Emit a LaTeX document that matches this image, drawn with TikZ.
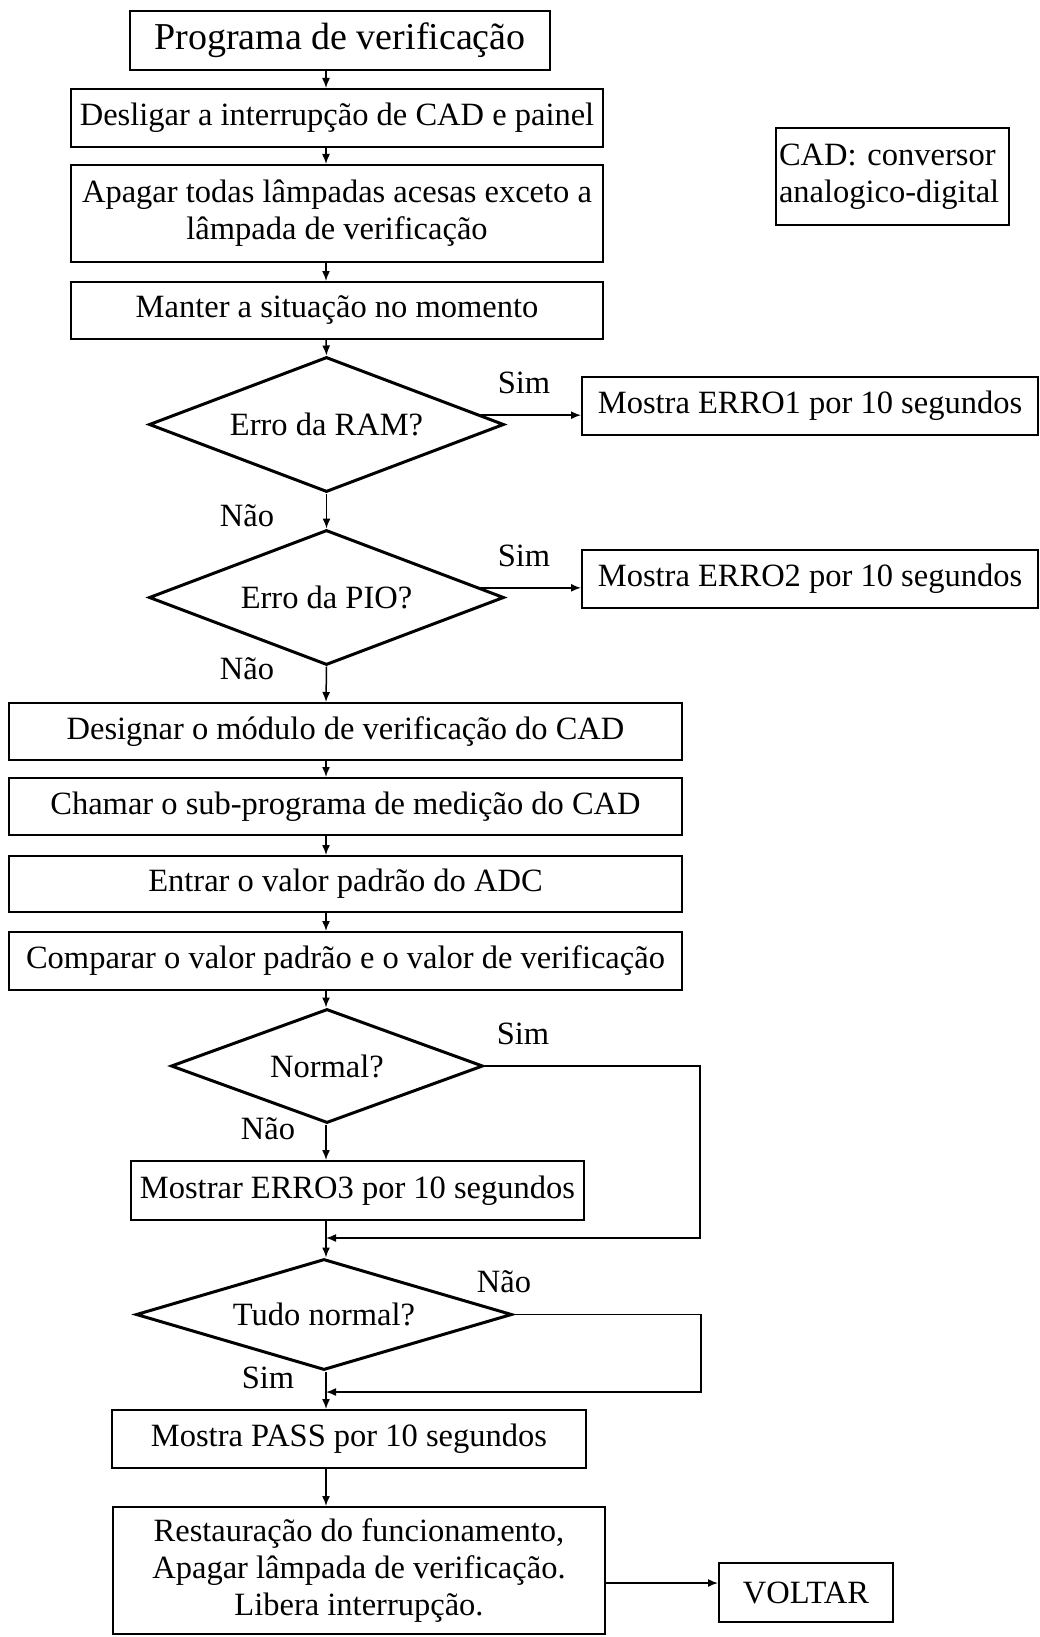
\documentclass[tikz,border=0pt]{standalone}
\usepackage{fontspec}
\setmainfont{Liberation Serif}
\usetikzlibrary{shapes.geometric,arrows.meta,calc}

\begin{document}
\begin{tikzpicture}[x=1pt,y=-1pt,
  every node/.style={font=\fontsize{32.5pt}{37pt}\selectfont, inner sep=0pt},
  procbox/.style={draw, line width=2pt, rectangle, align=center},
  decision/.style={draw, line width=3pt, diamond, aspect=4},
  flow/.style={line width=1.5pt, -{Latex[length=10pt,width=8pt]}},
  lbl/.style={}
]
\useasboundingbox (0,0) rectangle (1040,1637);

% main column of steps
\node[procbox, minimum width=420pt, minimum height=59pt,
      font=\fontsize{38pt}{44pt}\selectfont] (start) at (340,40.5) {Programa de verificação};
\node[procbox, minimum width=532pt, minimum height=58pt] (off) at (337,118)
  {Desligar a interrupção de CAD e painel};
\node[procbox, minimum width=532pt, minimum height=97pt] (lamps) at (337,213.5)
  {Apagar todas lâmpadas acesas exceto a\\lâmpada de verificação};
\node[procbox, minimum width=532pt, minimum height=57pt] (hold) at (337,310.5)
  {Manter a situação no momento};

\node[decision, minimum width=355pt, minimum height=135pt] (ram) at (326.5,424.5) {Erro da RAM?};
\node[procbox, minimum width=456pt, minimum height=58pt] (err1) at (810,406)
  {Mostra ERRO1 por 10 segundos};
\node[decision, minimum width=355pt, minimum height=135pt] (pio) at (326.5,597.5) {Erro da PIO?};
\node[procbox, minimum width=456pt, minimum height=58pt] (err2) at (810,579)
  {Mostra ERRO2 por 10 segundos};

\node[procbox, minimum width=673pt, minimum height=57pt] (sel) at (345.5,731.5)
  {Designar o módulo de verificação do CAD};
\node[procbox, minimum width=673pt, minimum height=57pt] (call) at (345.5,806.5)
  {Chamar o sub-programa de medição do CAD};
\node[procbox, minimum width=673pt, minimum height=56pt] (std) at (345.5,884)
  {Entrar o valor padrão do ADC};
\node[procbox, minimum width=673pt, minimum height=58pt] (cmp) at (345.5,961)
  {Comparar o valor padrão e o valor de verificação};

\node[decision, minimum width=312pt, minimum height=114pt] (norm) at (327,1066) {Normal?};
\node[procbox, minimum width=453pt, minimum height=59pt] (err3) at (357.5,1190.5)
  {Mostrar ERRO3 por 10 segundos};
\node[decision, minimum width=376pt, minimum height=111pt] (all) at (324,1314.5) {Tudo normal?};

\node[procbox, minimum width=474pt, minimum height=58pt] (pass) at (349,1439)
  {Mostra PASS por 10 segundos};
\node[procbox, minimum width=492pt, minimum height=127pt] (rest) at (359,1570.5)
  {Restauração do funcionamento,\\Apagar lâmpada de verificação.\\Libera interrupção.};
\node[procbox, minimum width=174pt, minimum height=59pt] (back) at (806,1592.5) {VOLTAR};

% abbreviation note
\node[procbox, align=left, text width=227pt, inner xsep=3pt, minimum height=97pt]
  (note) at (892.5,176.5) {CAD: conversor\\analogico-digital};

% helper coordinates
\coordinate (fx) at (326,0);
\coordinate (rx1) at (700,0);
\coordinate (rx2) at (701,0);
\coordinate (m1) at (326,1238);
\coordinate (m2) at (326,1392);
\coordinate (vy) at (0,1583);
\coordinate (r1) at ($(ram.east)!0.135!(ram.north)$);
\coordinate (p1) at ($(pio.east)!0.14!(pio.north)$);

% connectors
\draw[flow] (start.south -| fx) -- (off.north -| fx);
\draw[flow] (off.south -| fx) -- (lamps.north -| fx);
\draw[flow] (lamps.south -| fx) -- (hold.north -| fx);
\draw[flow] (hold.south -| fx) -- (ram.north);
\draw[flow] (r1) -- (r1 -| err1.west);
\draw[flow] (ram.south) -- (pio.north);
\draw[flow] (p1) -- (p1 -| err2.west);
\draw[flow] (pio.south) -- (sel.north -| fx);
\draw[flow] (sel.south -| fx) -- (call.north -| fx);
\draw[flow] (call.south -| fx) -- (std.north -| fx);
\draw[flow] (std.south -| fx) -- (cmp.north -| fx);
\draw[flow] (cmp.south -| fx) -- (norm.north -| fx);
\draw[flow] (norm.south -| fx) -- (err3.north -| fx);
\draw[flow] (norm.east) -- (norm.east -| rx1) -- (rx1 |- m1) -- (m1);
\draw[flow] (err3.south -| fx) -- (all.north -| fx);
\draw[flow] (all.east) -- (all.east -| rx2) -- (rx2 |- m2) -- (m2);
\draw[flow] (all.south -| fx) -- (pass.north -| fx);
\draw[flow] (pass.south -| fx) -- (rest.north -| fx);
\draw[flow] (rest.east |- vy) -- (back.west |- vy);

% branch labels
\node[lbl] (s1) at (524,383) {Sim};
\node[lbl] (n1) at (247,516) {Não};
\node[lbl] (s2) at (524,556) {Sim};
\node[lbl] (n2) at (247,669) {Não};
\node[lbl] (s3) at (523,1034) {Sim};
\node[lbl] (n3) at (268,1129) {Não};
\node[lbl] (n4) at (504,1282) {Não};
\node[lbl] (s4) at (268,1378) {Sim};
\end{tikzpicture}
\end{document}
